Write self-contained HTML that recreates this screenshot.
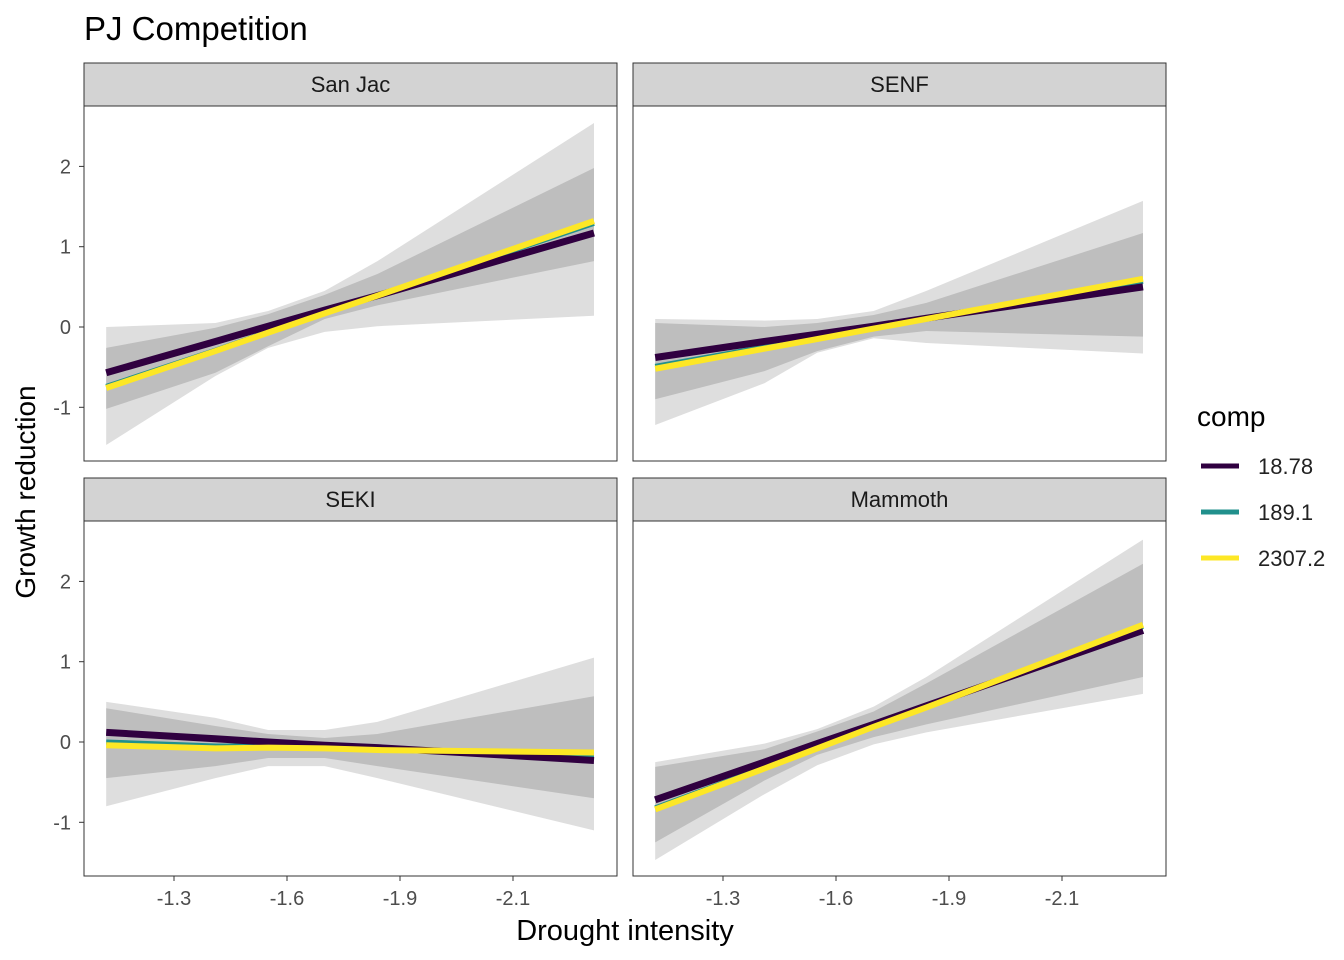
<!DOCTYPE html>
<html><head><meta charset="utf-8"><style>
body{margin:0;background:#fff;}
svg{display:block;font-family:"Liberation Sans",Arial,sans-serif;}
</style></head><body>
<svg id="chart" width="1344" height="960" viewBox="0 0 1344 960">
<text x="84" y="40" font-size="33" fill="#000">PJ Competition</text>
<text transform="translate(35,492) rotate(-90)" text-anchor="middle" font-size="28" fill="#000">Growth reduction</text>
<text x="625" y="940" text-anchor="middle" font-size="29" fill="#000">Drought intensity</text>
<g id="panels"></g>
<g>
<text x="1197" y="426" font-size="28" fill="#000">comp</text>
<g><line x1="1201" x2="1239" y1="466" y2="466" stroke="#300040" stroke-width="5"/><text x="1258" y="474" font-size="22" fill="#222">18.78</text></g>
<g><line x1="1201" x2="1239" y1="512" y2="512" stroke="#21908c" stroke-width="5"/><text x="1258" y="520" font-size="22" fill="#222">189.1</text></g>
<g><line x1="1201" x2="1239" y1="558" y2="558" stroke="#fde725" stroke-width="5"/><text x="1258" y="566" font-size="22" fill="#222">2307.2</text></g>
</g>
</svg>
<script>
const panelNames = ["San Jac", "SENF", "SEKI", "Mammoth"];
const xValues = [-1.12, -1.41, -1.55, -1.70, -1.84, -2.415];
const xTickValues = [-1.3, -1.6, -1.9, -2.2];
const xTickLabels = ["-1.3", "-1.6", "-1.9", "-2.1"];
const yTickValues = [-1, 0, 1, 2];
const outerUpper = [
  [0.0, 0.05, 0.2, 0.45, 0.82, 2.54],
  [0.1, 0.08, 0.1, 0.2, 0.45, 1.57],
  [0.5, 0.3, 0.15, 0.15, 0.25, 1.05],
  [-0.25, -0.02, 0.16, 0.44, 0.81, 2.52]];
const outerLower = [
  [-1.47, -0.61, -0.26, -0.06, 0.01, 0.14],
  [-1.22, -0.7, -0.32, -0.14, -0.2, -0.33],
  [-0.8, -0.45, -0.3, -0.3, -0.45, -1.1],
  [-1.47, -0.65, -0.29, -0.03, 0.12, 0.6]];
const innerUpper = [
  [-0.26, -0.01, 0.16, 0.4, 0.66, 1.98],
  [0.05, 0.0, 0.05, 0.15, 0.3, 1.17],
  [0.42, 0.2, 0.1, 0.05, 0.1, 0.57],
  [-0.31, -0.09, 0.13, 0.38, 0.73, 2.22]];
const innerLower = [
  [-1.02, -0.57, -0.24, 0.1, 0.27, 0.82],
  [-0.9, -0.55, -0.3, -0.12, -0.05, -0.12],
  [-0.45, -0.3, -0.2, -0.2, -0.3, -0.7],
  [-1.25, -0.48, -0.16, 0.06, 0.22, 0.81]];
const series18 = [
  [-0.57, -0.18, 0.01, 0.21, 0.39, 1.17],
  [-0.38, -0.18, -0.09, 0.01, 0.11, 0.5],
  [0.12, 0.04, 0.0, -0.04, -0.07, -0.23],
  [-0.72, -0.25, -0.02, 0.22, 0.45, 1.39]];
const series189 = [
  [-0.74, -0.29, -0.06, 0.17, 0.39, 1.29],
  [-0.49, -0.25, -0.13, -0.01, 0.1, 0.57],
  [0.0, -0.05, -0.05, -0.07, -0.09, -0.16],
  [-0.82, -0.32, -0.07, 0.2, 0.44, 1.44]];
const series2307 = [
  [-0.76, -0.30, -0.07, 0.17, 0.39, 1.32],
  [-0.52, -0.27, -0.15, -0.02, 0.10, 0.6],
  [-0.04, -0.08, -0.07, -0.08, -0.1, -0.13],
  [-0.84, -0.33, -0.08, 0.19, 0.43, 1.46]];

const NS = "http://www.w3.org/2000/svg";
const root = document.getElementById("panels");
const PX = [84, 633], PY = [106, 521], PW = 533, PH = 355, STRIP = 43;
function mk(tag, attrs, parent) { const e = document.createElementNS(NS, tag); for (const k in attrs) e.setAttribute(k, attrs[k]); parent.appendChild(e); return e; }
function xScale(x0, v) { return x0 + 90 + (v - (-1.3)) / (-0.3) * 113; }
function yScale(y0, v) { return y0 + 221 - v * 80.3; }
panelNames.forEach((name, i) => {
  const x0 = PX[i % 2], y0 = PY[Math.floor(i / 2)];
  const g = mk("g", {}, root);
  
  
  const strip = mk("rect", {x: x0, y: y0 - STRIP, width: PW, height: STRIP, fill: "#d3d3d3", stroke: "#333", "stroke-width": 1}, g);
  
  
  const st = mk("text", {x: x0 + PW / 2, y: y0 - 14, "text-anchor": "middle", "font-size": 22, fill: "#1a1a1a"}, g);
  st.textContent = name;
  
  
  mk("rect", {x: x0, y: y0, width: PW, height: PH, fill: "#fff"}, g);
  const ribbon = (up, lo, fill, nm) => {
    let d = xValues.map((v, j) => (j ? "L" : "M") + xScale(x0, v) + "," + yScale(y0, up[i][j])).join("");
    for (let j = xValues.length - 1; j >= 0; j--) d += "L" + xScale(x0, xValues[j]) + "," + yScale(y0, lo[i][j]);
    const p = mk("path", {d: d + "Z", fill: fill}, g);
    
    
  };
  ribbon(outerUpper, outerLower, "#dedede", "confidence-ribbon-outer");
  ribbon(innerUpper, innerLower, "#bebebe", "confidence-ribbon-inner");
  [[series189,"#21908c",5,"line-189-1"],[series18,"#300040",7,"line-18-78"],[series2307,"#fde725",6,"line-2307-2"]].forEach(s => {
    const d = xValues.map((v, j) => (j ? "L" : "M") + xScale(x0, v) + "," + yScale(y0, s[0][i][j])).join("");
    const p = mk("path", {d: d, fill: "none", stroke: s[1], "stroke-width": s[2]}, g);
    
    
  });
  mk("rect", {x: x0, y: y0, width: PW, height: PH, fill: "none", stroke: "#333", "stroke-width": 1}, g);
  if (i % 2 === 0) {
    yTickValues.forEach(v => {
      const y = yScale(y0, v);
      mk("line", {x1: x0 - 5, x2: x0, y1: y, y2: y, stroke: "#333", "stroke-width": 1}, g);
      const t = mk("text", {x: x0 - 13, y: y + 7, "text-anchor": "end", "font-size": 20, fill: "#4d4d4d"}, g);
      t.textContent = String(v);
      
      
    });
  }
  if (i >= 2) {
    xTickValues.forEach((v, k) => {
      const x = xScale(x0, v);
      mk("line", {x1: x, x2: x, y1: y0 + PH, y2: y0 + PH + 5, stroke: "#333", "stroke-width": 1}, g);
      const t = mk("text", {x: x, y: y0 + PH + 29, "text-anchor": "middle", "font-size": 20, fill: "#4d4d4d"}, g);
      t.textContent = xTickLabels[k];
      
      
    });
  }
});
</script>
</body></html>
